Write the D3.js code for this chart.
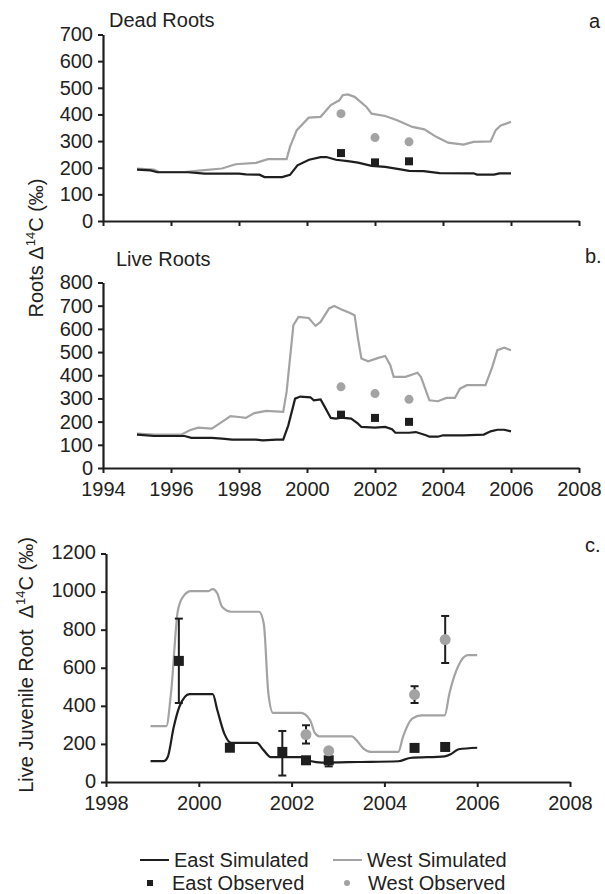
<!DOCTYPE html>
<html>
<head>
<meta charset="utf-8">
<script src="https://cdn.jsdelivr.net/npm/d3@7"></script>
<style>
  html, body { margin: 0; padding: 0; background: #fff; }
  svg { display: block; }
  text { font-family: "Liberation Sans", Arial, sans-serif; fill: #222; }
</style>
</head>
<body>
<svg id="chart" width="605" height="894"></svg>
<script>
// ---------- DATA ----------
// Panel a: Dead roots
const deadEastSim = [
  [1995.0,193],[1995.4,190],[1995.6,183],[1996.5,183],[1996.99,178],[1998.0,178],[1998.2,175],
  [1998.6,174],[1998.75,165],[1999.27,165],[1999.5,173],[1999.72,209],[2000.06,230],[2000.4,240],
  [2000.57,240],[2000.85,230],[2001.2,225],[2001.5,219],[2001.9,207],[2002.3,203],[2002.75,194],
  [2003.0,188],[2003.43,187],[2003.9,180],[2004.9,179],[2005.0,174],[2005.5,174],[2005.66,179],[2006.0,179]
];
const deadWestSim = [
  [1995.0,197],[1995.5,193],[1995.65,184],[1996.4,184],[1996.9,190],[1997.5,197],[1997.9,213],
  [1998.5,218],[1998.85,232],[1999.4,232],[1999.5,278],[1999.7,341],[2000.05,388],[2000.4,391],
  [2000.7,435],[2000.95,453],[2001.05,472],[2001.2,475],[2001.4,466],[2001.75,428],[2001.9,403],
  [2002.3,394],[2002.65,378],[2003.1,353],[2003.45,344],[2003.8,316],[2004.15,294],[2004.6,287],
  [2004.9,297],[2005.4,299],[2005.55,341],[2005.7,359],[2006.0,372]
];
const deadEastObs = [[2001,255],[2002,220],[2003,224]];
const deadWestObs = [[2001,403],[2002,313],[2003,297]];

// Panel b: Live roots
const liveEastSim = [
  [1995.0,144],[1995.5,138],[1996.4,138],[1996.6,130],[1997.2,130],[1997.5,127],[1997.8,122],
  [1998.5,122],[1998.7,119],[1999.1,122],[1999.3,122],[1999.45,184],[1999.65,299],[1999.8,308],
  [2000.1,305],[2000.2,292],[2000.4,296],[2000.55,256],[2000.7,216],[2000.85,213],[2001.0,217],
  [2001.3,213],[2001.5,191],[2001.6,177],[2002.0,174],[2002.3,177],[2002.5,167],[2002.6,152],
  [2003.0,152],[2003.2,155],[2003.5,141],[2003.6,135],[2003.85,135],[2004.0,141],[2004.6,141],
  [2005.2,144],[2005.4,158],[2005.6,165],[2005.8,165],[2006.0,158]
];
const liveWestSim = [
  [1995.0,148],[1995.5,144],[1996.3,144],[1996.55,163],[1996.8,174],[1997.2,170],[1997.5,199],
  [1997.75,224],[1998.0,220],[1998.2,216],[1998.45,237],[1998.8,246],[1999.3,242],[1999.4,328],
  [1999.6,616],[1999.75,652],[2000.05,647],[2000.25,613],[2000.4,630],[2000.65,688],[2000.8,699],
  [2001.0,685],[2001.25,670],[2001.4,659],[2001.5,558],[2001.6,472],[2001.8,460],[2002.1,475],
  [2002.3,483],[2002.45,443],[2002.55,393],[2002.9,393],[2003.25,411],[2003.35,393],[2003.6,292],
  [2003.85,288],[2004.1,302],[2004.35,302],[2004.5,342],[2004.7,357],[2005.25,357],[2005.45,436],
  [2005.6,508],[2005.8,519],[2006.0,508]
];
const liveEastObs = [[2001,230],[2002,216],[2003,199]];
const liveWestObs = [[2001,350],[2002,321],[2003,296]];

// Panel c: Live juvenile root
const juvEastSim = [
  [1998.96,110],[1999.25,110],[1999.33,131],[1999.46,289],[1999.58,394],[1999.8,461],[2000.3,461],
  [2000.4,377],[2000.55,254],[2000.7,205],[2001.25,205],[2001.4,166],[2001.55,131],[2002.2,131],
  [2002.4,110],[2002.65,102],[2003.45,105],[2004.3,109],[2004.55,126],[2005.3,135],[2005.45,149],
  [2005.6,172],[2006.0,180]
];
const juvWestSim = [
  [1998.96,293],[1999.3,293],[1999.4,464],[1999.55,902],[1999.67,976],[1999.83,1002],[2000.2,1002],
  [2000.3,1013],[2000.4,990],[2000.5,920],[2000.7,894],[2001.3,894],[2001.4,832],[2001.5,464],
  [2001.6,363],[2002.2,363],[2002.4,324],[2002.5,258],[2002.6,240],[2003.3,240],[2003.4,219],
  [2003.55,175],[2003.7,158],[2004.3,158],[2004.4,237],[2004.6,333],[2004.8,350],[2005.3,350],
  [2005.4,464],[2005.6,613],[2005.8,666],[2006.0,666]
];
// [year, value, low, high] (null = no error bar)
const juvEastObs = [
  [1999.57,636,415,858],[2000.67,180,null,null],[2001.80,158,34,268],[2002.31,114,null,null],
  [2002.80,114,82,172],[2004.65,179,null,null],[2005.31,184,null,null]
];
const juvWestObs = [
  [2002.31,249,202,298],[2002.80,164,null,null],[2004.65,459,415,503],[2005.31,748,625,872]
];

const abYearTicks = [1994,1996,1998,2000,2002,2004,2006,2008];
const cYearTicks = [1998,2000,2002,2004,2006,2008];
const aValueTicks = [0,100,200,300,400,500,600,700];
const bValueTicks = [0,100,200,300,400,500,600,700,800];
const cValueTicks = [0,200,400,600,800,1000,1200];

const legendItems = [
  {label:"East Simulated", kind:"line", color:"#1e1e1e"},
  {label:"West Simulated", kind:"line", color:"#a3a3a3"},
  {label:"East Observed", kind:"square", color:"#1e1e1e"},
  {label:"West Observed", kind:"circle", color:"#a3a3a3"}
];

// ---------- DRAW ----------
const svg = d3.select("#chart");
const BLACK = "#1e1e1e", GRAY = "#a3a3a3";
const FONT = 20;

function panel(opts) {
  const x = d3.scaleLinear().domain(opts.xDomain).range(opts.xRange);
  const y = d3.scaleLinear().domain(opts.yDomain).range(opts.yRange);
  const g = svg.append("g");

  const xAxis = d3.axisBottom(x).tickValues(opts.xTicks).tickSize(5).tickSizeOuter(0)
    .tickPadding(opts.xPad).tickFormat(opts.xLabels ? d3.format("d") : "");
  const yAxis = d3.axisLeft(y).tickValues(opts.yTicks).tickSize(5).tickSizeOuter(0)
    .tickPadding(5).tickFormat(d3.format("d"));
  const gx = g.append("g").attr("transform", `translate(0,${opts.yRange[0]})`).call(xAxis);
  const gy = g.append("g").attr("transform", `translate(${opts.xRange[0]},0)`).call(yAxis);
  [gx, gy].forEach(a => {
    a.selectAll(".domain").attr("stroke", BLACK).attr("stroke-width", 2.2);
    a.selectAll(".tick line").attr("stroke", BLACK).attr("stroke-width", 2);
    a.selectAll("text").style("font-size", FONT + "px").attr("fill", "#222")
      .style("font-family", '"Liberation Sans", Arial, sans-serif');
  });
  if (opts.yDy) gy.selectAll("text").attr("dy", opts.yDy);

  const line = d3.line().x(d => x(d[0])).y(d => y(d[1])).curve(opts.curve || d3.curveLinear);
  g.append("path").datum(opts.westSim).attr("d", line).attr("fill", "none")
    .attr("stroke", GRAY).attr("stroke-width", 2.2);
  g.append("path").datum(opts.eastSim).attr("d", line).attr("fill", "none")
    .attr("stroke", BLACK).attr("stroke-width", 2.2);

  const ms = opts.markerSize;
  const eb = opts.eastObs.concat(opts.westObs).filter(d => d[2] != null);
  const cap = 4;
  eb.forEach(d => {
    g.append("line").attr("x1", x(d[0])).attr("x2", x(d[0])).attr("y1", y(d[2])).attr("y2", y(d[3]))
      .attr("stroke", BLACK).attr("stroke-width", 2);
    [d[2], d[3]].forEach(v => g.append("line").attr("x1", x(d[0]) - cap).attr("x2", x(d[0]) + cap)
      .attr("y1", y(v)).attr("y2", y(v)).attr("stroke", BLACK).attr("stroke-width", 2));
  });
  g.selectAll(null).data(opts.eastObs).join("rect")
    .attr("x", d => x(d[0]) - ms / 2).attr("y", d => y(d[1]) - ms / 2)
    .attr("width", ms).attr("height", ms).attr("fill", BLACK);
  g.selectAll(null).data(opts.westObs).join("circle")
    .attr("cx", d => x(d[0])).attr("cy", d => y(d[1])).attr("r", ms / 2 + 0.5).attr("fill", GRAY);

  if (opts.title.text) g.append("text").attr("x", opts.title.x).attr("y", opts.title.y)
    .style("font-size", FONT + "px").text(opts.title.text);
  g.append("text").attr("x", opts.tag.x).attr("y", opts.tag.y).style("font-size", FONT + "px").text(opts.tag.text);
}

panel({
  xDomain:[1994,2008], xRange:[103,579], yDomain:[0,700], yRange:[221,34.5],
  xTicks:abYearTicks, yTicks:aValueTicks, xLabels:false, xPad:8,
  eastSim:deadEastSim, westSim:deadWestSim, eastObs:deadEastObs.map(d=>[d[0],d[1],null,null]),
  westObs:deadWestObs.map(d=>[d[0],d[1],null,null]), markerSize:8,
  title:{text:"Dead Roots", x:109, y:27}, tag:{text:"a", x:589, y:28}
});
panel({
  xDomain:[1994,2008], xRange:[103,579], yDomain:[0,800], yRange:[468,282.5],
  xTicks:abYearTicks, yTicks:bValueTicks, xLabels:true, xPad:9,
  eastSim:liveEastSim, westSim:liveWestSim, eastObs:liveEastObs.map(d=>[d[0],d[1],null,null]),
  westObs:liveWestObs.map(d=>[d[0],d[1],null,null]), markerSize:8,
  title:{text:"Live Roots", x:116, y:266}, tag:{text:"b.", x:585, y:263}
});
panel({
  xDomain:[1998,2008], xRange:[106,570], yDomain:[0,1200], yRange:[782,553.5],
  xTicks:cYearTicks, yTicks:cValueTicks, xLabels:true, xPad:9, yDy:"0.27em",
  eastSim:juvEastSim, westSim:juvWestSim, eastObs:juvEastObs, westObs:juvWestObs,
  markerSize:10, curve:d3.curveMonotoneX,
  title:{text:"", x:0, y:0}, tag:{text:"c.", x:585, y:552}
});

function yTitle(prefix, cx, cy) {
  const t = svg.append("text").attr("transform", `translate(${cx},${cy}) rotate(-90)`)
    .attr("text-anchor", "middle").style("font-size", FONT + "px");
  t.append("tspan").text(prefix + "\u00a0\u0394");
  t.append("tspan").attr("dy", -8).style("font-size", "13px").text("14");
  t.append("tspan").attr("dy", 8).text("C (\u2030)");
}
yTitle("Roots", 43, 248);
yTitle("Live Juvenile Root\u00a0", 33, 665);

const lg = svg.append("g");
const legPos = [
  {x:140, y:860, tx:174},
  {x:333, y:860, tx:367},
  {x:150, y:883, tx:172},
  {x:347, y:883, tx:368}
];
legendItems.forEach((it, i) => {
  const p = legPos[i];
  if (it.kind === "line") {
    lg.append("line").attr("x1", p.x).attr("x2", p.x + 29).attr("y1", p.y).attr("y2", p.y)
      .attr("stroke", it.color).attr("stroke-width", 2);
  } else if (it.kind === "square") {
    lg.append("rect").attr("x", p.x - 3).attr("y", p.y - 3).attr("width", 6).attr("height", 6).attr("fill", it.color);
  } else {
    lg.append("circle").attr("cx", p.x).attr("cy", p.y).attr("r", 3).attr("fill", it.color);
  }
  lg.append("text").attr("x", p.tx).attr("y", p.y + 6.5).style("font-size", FONT + "px").text(it.label);
});
</script>
</body>
</html>
